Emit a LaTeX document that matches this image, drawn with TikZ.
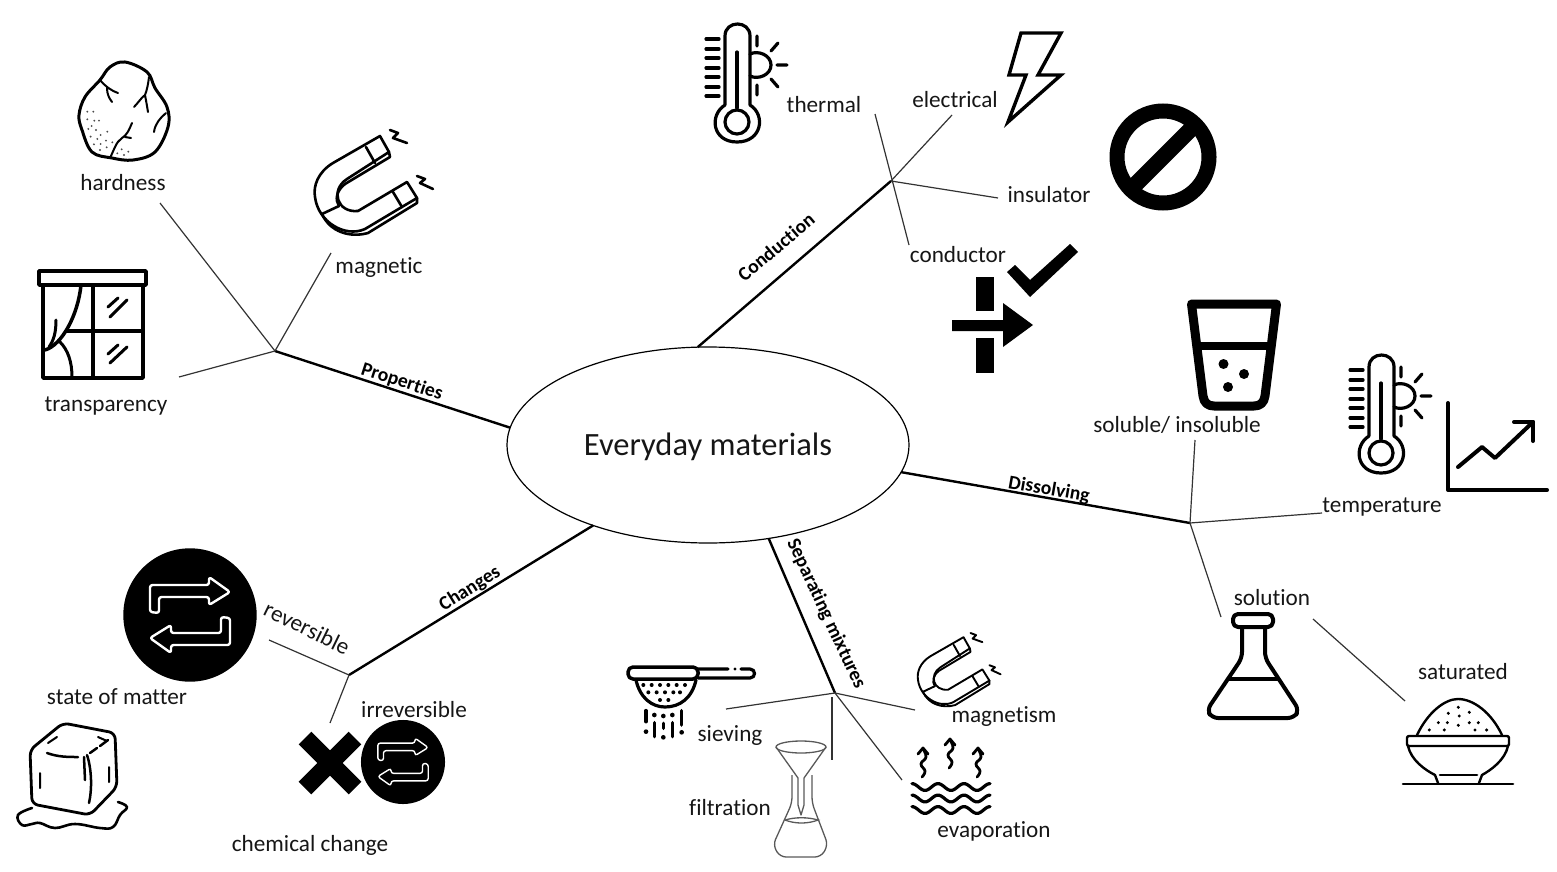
\documentclass[tikz,border=0pt]{standalone}
\usepackage{fontspec}
\setmainfont{Carlito}[Ligatures=NoCommon]
\usetikzlibrary{shapes.geometric}
\definecolor{ink}{HTML}{161616}
\tikzset{
  lab/.style={font=\fontsize{23.2}{26}\selectfont,text=ink,inner sep=0pt,anchor=center,text height=19pt,text depth=3pt},
  branchlab/.style={font=\fontsize{19.6}{22}\selectfont\bfseries,text=black,inner sep=0pt,anchor=center},
  mainline/.style={draw=black,line width=2.4pt},
  subline/.style={draw=black!80,line width=1.2pt},
  iconline/.style={draw=black,line width=#1,line join=round,line cap=round,fill=none},
  iconline/.default=3pt,
  magnet/.pic={
    \draw[iconline=#1] (380,136) -- (389,152) -- (347,179) .. controls (330,190) and (337,213) .. (358,211) -- (407,182) -- (417,198) -- (365,229)
       .. controls (345,238) and (318,222) .. (315,197) .. controls (313,186) and (318,172) .. (333,163) -- cycle;
    \draw[iconline=#1] (417,198) -- (417,203) -- (368,233) .. controls (350,238) and (330,232) .. (322,214);
    \draw[iconline=#1] (389,152) -- (390,157) -- (345,184) .. controls (336,191) and (335,200) .. (339,206);
    \draw[iconline=#1] (322,214) -- (339,206);
    \draw[iconline=#1] (366,147) -- (375,163);
    \draw[iconline=#1] (393,192) -- (402,207);
    \draw[iconline=#1] (390,130) -- (398,133) -- (393,138) -- (407,143);
    \draw[iconline=#1] (417,176) -- (425,179) -- (420,183) -- (433,189);
  },
  thermo/.pic={
    \draw[iconline=3.2pt] (725,105) -- (725,36) .. controls (725,20) and (750,20) .. (750,36) -- (750,105)
       .. controls (766,115) and (762,142) .. (737,142) .. controls (712,142) and (709,115) .. (725,105);
    \draw[iconline=3.2pt] (737,122) circle[radius=12];
    \draw[iconline=3.2pt] (737,52) -- (737,108);
    \foreach \t in {39,49,58,68,77,87,96} \draw[iconline=3.2pt] (706,\t) -- (719,\t);
    \draw[iconline=3.2pt] (750,54) .. controls (758,50) and (771,55) .. (771,65) .. controls (771,75) and (758,80) .. (750,76);
    \draw[iconline=3.2pt] (757,36) -- (757,46) (757,85) -- (757,95) (777,65) -- (787,65) (771,51) -- (778,43) (771,79) -- (778,87);
  },
  swaparrows/.pic={
    \fill[black] (0,0) circle[radius=66.7];
    \draw[draw=white,line width=#1,rounded corners=2.5pt,line join=round]
      (-40,-3) -- (-40,-30) -- (19,-30) -- (19,-38) -- (40,-23) -- (19,-10) -- (19,-18) -- (-31,-18) -- (-31,-2) -- cycle;
    \draw[draw=white,line width=#1,rounded corners=2.5pt,line join=round]
      (40,3) -- (40,30) -- (-19,30) -- (-19,38) -- (-40,23) -- (-19,10) -- (-19,18) -- (31,18) -- (31,2) -- cycle;
  },
}
\begin{document}
\begin{tikzpicture}[x=1pt,y=-1pt]
\useasboundingbox (0,0) rectangle (1557,872);
% ---------- centre
\node[ellipse,draw=black,line width=1.2pt,minimum width=402pt,minimum height=196pt,inner sep=0pt,outer sep=0pt,
      font=\fontsize{32.5}{36}\selectfont,text=ink,text height=26pt,text depth=6pt] (ctr) at (708,445) {Everyday materials};
% ---------- hubs and free ends
\coordinate (hubP) at (275,351);
\coordinate (hubC) at (891,181);
\coordinate (hubD) at (1190,523);
\coordinate (hubS) at (835,693);
\coordinate (hubH) at (349,675);
\coordinate (eHard) at (160,203);
\coordinate (eMagn) at (331,253);
\coordinate (eTran) at (179,377);
\coordinate (eTher) at (875,114);
\coordinate (eCond) at (909,245);
\coordinate (eElec) at (952,115);
\coordinate (eInsu) at (998,198);
\coordinate (eSolu) at (1195,440);
\coordinate (eTemp) at (1322,513);
\coordinate (eSoln) at (1221,617);
\coordinate (eSatA) at (1313,619);
\coordinate (eSatB) at (1405,701);
\coordinate (eSiev) at (726,709);
\coordinate (eMgsm) at (915,710);
\coordinate (eEvap) at (902,780);
\coordinate (eFilA) at (832,697);
\coordinate (eFilB) at (832,760);
\coordinate (eReve) at (269,640);
\coordinate (eIrre) at (330,723);
% ---------- main branches
\draw[mainline] (ctr.175) -- (hubP);
\draw[mainline] (ctr.96.4) -- (hubC);
\draw[mainline] (ctr.-8) -- (hubD);
\draw[mainline] (ctr.-57.6) -- (hubS);
\draw[mainline] (ctr.215.6) -- (hubH);
% ---------- sub-branches
\draw[subline] (hubP) -- (eHard);
\draw[subline] (hubP) -- (eMagn);
\draw[subline] (hubP) -- (eTran);
\draw[subline] (eTher) -- (eCond);
\draw[subline] (hubC) -- (eElec);
\draw[subline] (hubC) -- (eInsu);
\draw[subline] (hubD) -- (eSolu);
\draw[subline] (hubD) -- (eTemp);
\draw[subline] (hubD) -- (eSoln);
\draw[subline] (eSatA) -- (eSatB);
\draw[subline] (hubS) -- (eSiev);
\draw[subline] (hubS) -- (eMgsm);
\draw[subline] (hubS) -- (eEvap);
\draw[subline] (eFilA) -- (eFilB);
\draw[subline] (hubH) -- (eReve);
\draw[subline] (hubH) -- (eIrre);
% ---------- branch labels
\node[branchlab,rotate=-18] (lProp) at (402,382) {Properties};
\node[branchlab,rotate=40] (lCond) at (776,247) {Conduction};
\node[branchlab,rotate=-10] (lDiss) at (1049,490) {Dissolving};
\node[branchlab,rotate=-65] (lSepa) at (826,614) {Separating mixtures};
\node[branchlab,rotate=32] (lChan) at (470,589) {Changes};
% ---------- labels
\node[lab] (tHard) at (123,182) {hardness};
\node[lab] (tMagn) at (379,265) {magnetic};
\node[lab] (tTran) at (106,403) {transparency};
\node[lab] (tTher) at (824,105) {thermal};
\node[lab] (tElec) at (955,100) {electrical};
\node[lab] (tInsu) at (1049,194) {insulator};
\node[lab] (tCond) at (958,254) {conductor};
\node[lab] (tSolu) at (1177,424) {soluble/ insoluble};
\node[lab] (tTemp) at (1382,504) {temperature};
\node[lab] (tSoln) at (1272,597) {solution};
\node[lab] (tSatu) at (1463,671) {saturated};
\node[lab] (tSiev) at (730,733) {sieving};
\node[lab] (tMgsm) at (1004,714) {magnetism};
\node[lab] (tFilt) at (730,807) {filtration};
\node[lab] (tEvap) at (994,829) {evaporation};
\node[lab,rotate=-26] (tReve) at (307,628) {reversible};
\node[lab] (tIrre) at (414,709) {irreversible};
\node[lab] (tStat) at (117,696) {state of matter};
\node[lab] (tChem) at (310,843) {chemical change};
% ---------- rock
\draw[iconline=3pt] plot[smooth cycle,tension=.6] coordinates {(125,62) (147,72) (155,88) (167,107) (168,127) (155,152) (133,160) (112,158) (92,152) (82,130) (79,115) (85,97) (100,80) (110,67)};
\draw[iconline=2pt] (100,80) .. controls (105,86) and (110,90) .. (118,93) (107,88) .. controls (107,94) and (109,98) .. (112,102);
\draw[iconline=2pt] (149,77) .. controls (148,85) and (147,90) .. (145,95) .. controls (141,98) and (138,103) .. (134,107) (145,95) .. controls (146,100) and (147,106) .. (148,112);
\draw[iconline=2pt] (166,113) .. controls (160,118) and (155,124) .. (154,132);
\draw[iconline=2pt] (132,123) .. controls (129,130) and (127,135) .. (122,138) .. controls (116,142) and (114,150) .. (110,158) (125,137) -- (131,138);
\begin{scope}[shift={(0,30)},scale=.3333]
\foreach \a/\b in {262/245,280/245,262/268,283/272,297/272,275/288,265/297,288/300,302/315,322/305,272/320,292/327,318/332,337/337,282/343,302/342,320/352,300/360,365/358,385/365,352/370,372/375}
  \fill[black!70] (\a,\b) circle[radius=3.2];
\end{scope}
% ---------- magnet (large)
\pic {magnet=2.6pt};
% ---------- window
\draw[iconline=3.8pt] (39,271) rectangle (146,285);
\draw[iconline=3.8pt] (43,285) rectangle (143,378);
\draw[iconline=3.5pt] (93,285) -- (93,378) (67,331) -- (143,331);
\draw[iconline=3.5pt] (81,285) .. controls (78,315) and (62,345) .. (45,350);
\draw[iconline=3pt] (56,320) .. controls (56,332) and (54,340) .. (49,347);
\draw[iconline=3pt] (60,342) .. controls (68,350) and (72,362) .. (72,377);
\draw[iconline=3pt] (118,298) -- (108,307) (127,300) -- (110,317) (118,345) -- (108,354) (127,347) -- (110,363);
% ---------- thermometers
\pic {thermo};
\pic[shift={(644,331)}] {thermo};
% ---------- bolt
\draw[iconline=3.4pt,line join=miter] (1021,33) -- (1061,33) -- (1038,75) -- (1061,75) -- (1008,122) -- (1026,75) -- (1009,75) -- cycle;
% ---------- no sign
\draw[black,line width=15pt] (1163,157) circle[radius=46];
\draw[black,line width=16pt] (1130,190) -- (1196,124);
% ---------- check and conductor symbol
\fill[black] (1007,272) -- (1015,265) -- (1030,280) -- (1070,244) -- (1078,252) -- (1030,297) -- cycle;
\fill[black] (976,277) rectangle (994,311);
\fill[black] (976,338) rectangle (994,373);
\fill[black] (952,320) -- (1003,320) -- (1003,303) -- (1033,325) -- (1003,347) -- (1003,331) -- (952,331) -- cycle;
% ---------- glass
\draw[iconline=9pt] (1191.5,304) -- (1276.5,304) -- (1265,396) .. controls (1264,403) and (1260,406) .. (1254,406) -- (1214,406) .. controls (1208,406) and (1204,403) .. (1203,396) -- cycle;
\draw[black,line width=8pt] (1197,346) -- (1270,346);
\fill[black] (1223.5,364) circle[radius=5] (1244,374) circle[radius=5] (1228,387) circle[radius=5];
% ---------- graph
\draw[iconline=4pt] (1448,403) -- (1448,490) -- (1547,490);
\draw[iconline=4pt] (1458,467) -- (1482,447) -- (1495,458) -- (1533,422);
\draw[iconline=4pt] (1514,422) -- (1533,422) -- (1533,441);
% ---------- flask
\draw[iconline=4pt,rounded corners=5pt] (1233,614) rectangle (1273,627);
\draw[iconline=4pt,rounded corners=6pt,line cap=butt] (1242,627) -- (1242,658) -- (1207,710) -- (1212,718) -- (1294,718) -- (1299,710) -- (1265,658) -- (1265,627);
\draw[iconline=3.5pt] (1229,679) -- (1278,679);
% ---------- bowl
\draw[iconline=2.4pt] (1417,735) .. controls (1428,712) and (1445,699) .. (1458,699) .. controls (1473,699) and (1491,712) .. (1502,735);
\draw[iconline=2.4pt,rounded corners=2pt] (1407,736) rectangle (1509,746);
\draw[iconline=2.4pt] (1408,746) .. controls (1411,760) and (1425,770) .. (1435,775) -- (1438,783);
\draw[iconline=2.4pt] (1508,746) .. controls (1505,760) and (1491,770) .. (1482,775) -- (1479,783);
\draw[iconline=2.6pt] (1403,784) -- (1513,784);
\draw[iconline=2.6pt] (1440,775) -- (1477,775);
\begin{scope}[shift={(1190,580)},scale=.3333]
\foreach \a/\b in {805/382,775/400,838/397,808/408,745/428,772/428,805/436,838/428,865/428,718/450,763/450,855/450,890/450}
  \fill[black] (\a,\b) circle[radius=5];
\end{scope}
% ---------- swap circles
\pic at (190,615) {swaparrows=2.4pt};
\pic[scale=.63] at (403,762) {swaparrows=1.4pt};
% ---------- cross
\draw[black,line width=18pt] (305,738) -- (355,788) (355,738) -- (305,788);
% ---------- ice
\draw[iconline=2.8pt,rounded corners=6pt] (63,723) -- (115,733) -- (117,787) -- (90,815) -- (32,804) -- (30,750) -- cycle;
\draw[iconline=2.5pt] (47,753) .. controls (58,757) and (68,757) .. (78,757);
\draw[iconline=2.5pt] (87,755) .. controls (92,770) and (92,790) .. (89,803);
\draw[iconline=2.5pt] (84,757) -- (85,780);
\draw[iconline=2.5pt] (90,753) -- (97,748) (100,746) -- (108,740);
\draw[iconline=2pt] (40,773) -- (40,788) (109,767) -- (109,782) (57,737) -- (48,743) (98,737) -- (107,741);
\draw[iconline=2.6pt] plot[smooth,tension=.7] coordinates {(32,808) (18,815) (22,825) (32,824) (40,823) (55,828) (75,824) (100,828) (113,827) (120,815) (127,807) (118,802)};
% ---------- strainer
\draw[iconline=3.5pt,rounded corners=5pt] (628,667) rectangle (698,679);
\draw[iconline=3.2pt] (698,669) -- (728,669) (741,669) -- (750,669) .. controls (756,669) and (756,678) .. (750,678) -- (698,678);
\fill[black] (735,669) circle[radius=1.7];
\draw[iconline=3.2pt] (636,680) .. controls (640,698) and (652,707) .. (665,707) .. controls (680,707) and (692,698) .. (696,680);
\begin{scope}[shift={(610,620)},scale=.3333]
\foreach \a/\b in {100/195,125/195,150/195,175/195,200/195,225/195,115/217,140/217,165/217,190/217,210/217,150/240,175/240}
  \fill[black] (\a,\b) circle[radius=6];
\draw[iconline=3.6pt] (108,272) -- (108,305) (133,308) -- (133,350) (160,310) -- (160,325) (187,308) -- (187,350) (215,272) -- (215,315);
\fill[black] (108,335) circle[radius=7] (133,285) circle[radius=7] (160,288) circle[radius=7] (160,352) circle[radius=7] (187,285) circle[radius=7] (215,337) circle[radius=7];
\end{scope}
% ---------- small magnet
\pic[shift={(697.5,542)},scale=.7] {magnet=1.9pt};
% ---------- funnel and flask
\draw[draw=black!65,line width=1.3pt,line join=round] (801,747) ellipse[x radius=25,y radius=6];
\draw[draw=black!65,line width=1.3pt,line join=round] (776,747) -- (798,778) -- (798,805) -- (801,815) -- (804,805) -- (804,778) -- (826,747);
\draw[draw=black!65,line width=1.3pt,rounded corners=6pt] (792,775) -- (792,803) -- (773,845) -- (780,857) -- (821,857) -- (828,845) -- (812,803) -- (812,775);
\draw[draw=black!65,line width=1.3pt] (785,820) .. controls (795,824) and (808,824) .. (818,820) .. controls (808,817) and (795,817) .. (785,820);
% ---------- evaporation
\foreach \w in {787,798.5,810}
  \draw[iconline=3.2pt] plot[domain=912:990,samples=61,smooth] (\x,{\w+3.4*sin((\x-912)/26*360-90)});
\foreach \p/\q in {923/748,950/739,978/748}{
  \draw[iconline=2.8pt] (\p-5,\q+6) -- (\p,\q) -- (\p+5,\q+6);
  \draw[iconline=2.8pt] plot[smooth,tension=.8] coordinates {(\p,\q+1) (\p+3,\q+9) (\p-2,\q+16) (\p+2,\q+23) (\p-1,\q+29)};
}
\end{tikzpicture}
\end{document}
